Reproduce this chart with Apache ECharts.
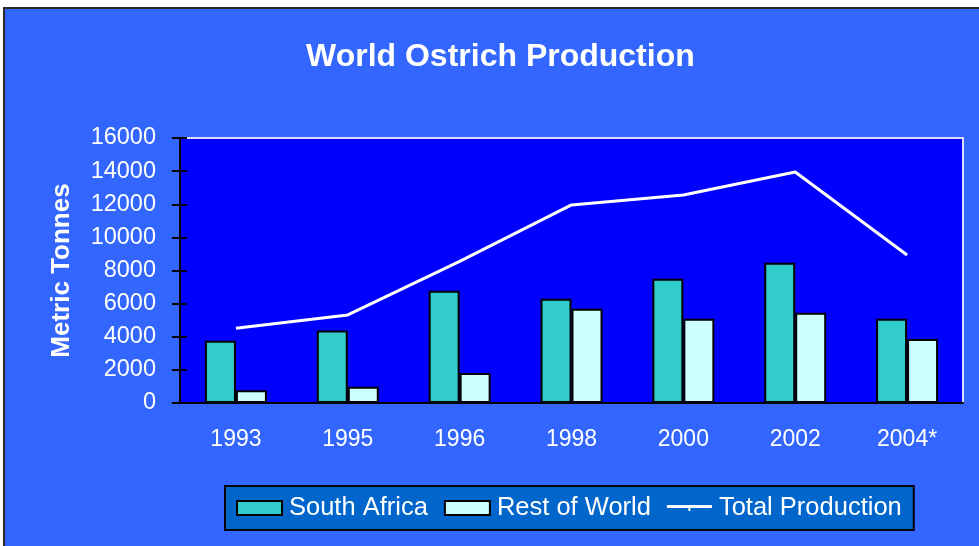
<!DOCTYPE html>
<html>
<head>
<meta charset="utf-8">
<title>World Ostrich Production</title>
<script src="https://cdn.jsdelivr.net/npm/echarts@6/dist/echarts.min.js"></script>
<style>
    html, body { margin: 0; padding: 0; background: #ffffff; }
    #chart { width: 979px; height: 546px; }
</style>
</head>
<body>
<div id="chart"></div>
<script>
// 数据
const categories = ["1993", "1995", "1996", "1998", "2000", "2002", "2004*"];
const southAfrica = [3760, 4370, 6780, 6300, 7500, 8470, 5090];
const restOfWorld = [770, 980, 1810, 5690, 5090, 5450, 3860];
const totalProduction = [4520, 5320, 8550, 11960, 12560, 13950, 8940];

const font = "'Liberation Sans', Arial, sans-serif";

const chart = echarts.init(document.getElementById("chart"), null, { renderer: "canvas" });

const option = {
    backgroundColor: "#ffffff",
    animation: false,
    // 外框
    graphic: [
        {
            type: "rect",
            z: -10,
            silent: true,
            shape: { x: 4, y: 8, width: 990, height: 560 },
            style: { fill: "#3366FF", stroke: "#2a2a2a", lineWidth: 2 },
        },
    ],
    title: {
        text: "World Ostrich Production",
        left: 301,
        top: 36,
        textStyle: { color: "#ffffff", fontFamily: font, fontWeight: "bold", fontSize: 32 },
    },
    legend: {
        left: 225,
        top: 486,
        width: 740,
        padding: [9, 12, 9, 11],
        backgroundColor: "#0066CC",
        borderColor: "#000000",
        borderWidth: 2,
        itemWidth: 45,
        itemHeight: 14,
        itemGap: 16,
        textStyle: { color: "#ffffff", fontFamily: font, fontSize: 25.5, padding: [0, 0, 0, 2] },
        data: [
            { name: "South Africa", icon: "rect" },
            { name: "Rest of World", icon: "rect" },
            // 图例里的线，中间带一个小刻度
            { name: "Total Production", icon: "path://M0,0H46V3H24V6H22V3H0Z", itemStyle: { color: "#ffffff" } },
        ],
    },
    grid: {
        left: 180,
        right: 16,
        top: 138,
        bottom: 143,
        show: true,
        backgroundColor: "#0000FF",
        borderColor: "#DDDDFF",
        borderWidth: 2,
    },
    xAxis: [
        {
            type: "category",
            data: categories,
            axisLine: { lineStyle: { color: "#000000", width: 2 } },
            axisTick: { length: 9, lineStyle: { color: "#000000", width: 2 } },
            axisLabel: { color: "#ffffff", fontFamily: font, fontSize: 23, margin: 25 },
        },
        {
            // 刻度线穿过轴线
            type: "category",
            data: categories,
            position: "bottom",
            axisLine: { show: false },
            axisTick: { inside: true, length: 7, lineStyle: { color: "#000000", width: 2 } },
            axisLabel: { show: false },
        },
    ],
    yAxis: [
        {
            type: "value",
            min: 0,
            max: 16000,
            interval: 2000,
            name: "Metric Tonnes",
            nameLocation: "middle",
            nameGap: 105,
            nameTextStyle: { color: "#ffffff", fontFamily: font, fontWeight: "bold", fontSize: 26 },
            splitLine: { show: false },
            axisLine: { show: true, lineStyle: { color: "#000000", width: 2 } },
            axisTick: { show: true, length: 8, lineStyle: { color: "#000000", width: 2 } },
            axisLabel: {
                color: "#ffffff",
                fontFamily: font,
                fontSize: 23.5,
                margin: 24,
                formatter: (v) => String(v),
            },
        },
        {
            type: "value",
            min: 0,
            max: 16000,
            interval: 2000,
            position: "left",
            splitLine: { show: false },
            axisLine: { show: false },
            axisTick: { show: true, inside: true, length: 7, lineStyle: { color: "#000000", width: 2 } },
            axisLabel: { show: false },
        },
    ],
    series: [
        {
            name: "South Africa",
            type: "bar",
            data: southAfrica,
            barWidth: 31,
            barGap: "0%",
            itemStyle: { color: "#33CCCC", borderColor: "#000000", borderWidth: 2 },
        },
        {
            name: "Rest of World",
            type: "bar",
            data: restOfWorld,
            barWidth: 31,
            barGap: "0%",
            itemStyle: { color: "#CCFFFF", borderColor: "#000000", borderWidth: 2 },
        },
        {
            name: "Total Production",
            type: "line",
            data: totalProduction,
            symbol: "none",
            z: 5,
            lineStyle: { color: "#ffffff", width: 3 },
            itemStyle: { color: "#ffffff" },
        },
    ],
};

chart.setOption(option);
</script>
</body>
</html>
